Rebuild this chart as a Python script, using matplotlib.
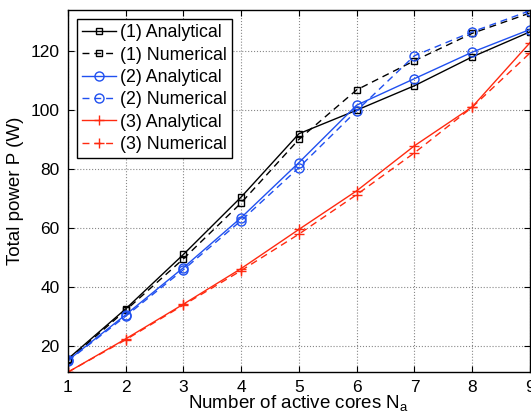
import matplotlib
matplotlib.use('Agg')
import matplotlib.pyplot as plt

plt.rcParams['font.family'] = ['Liberation Sans', 'DejaVu Sans']

cores = [1, 2, 3, 4, 5, 6, 7, 8, 9]
ana1 = [15.5, 32.5, 51.0, 70.5, 92.0, 100.0, 108.3, 118.1, 126.6]
num1 = [15.0, 32.0, 49.5, 68.5, 90.1, 106.9, 116.8, 126.1, 133.0]
ana2 = [15.0, 30.5, 46.5, 63.5, 82.2, 101.7, 110.7, 119.7, 127.4]
num2 = [14.8, 30.0, 45.8, 62.5, 80.5, 99.8, 118.5, 126.6, 133.8]
ana3 = [11.0, 22.3, 34.1, 46.2, 59.5, 72.6, 87.9, 101.1, 122.9]
num3 = [11.0, 22.0, 33.8, 45.5, 57.9, 71.3, 85.5, 101.0, 119.4]

blue = '#2050f0'
red = '#ff2a10'
dash = (5, 3.5)

fig = plt.figure(figsize=(5.31, 4.2), dpi=100)
ax = fig.add_axes([0.128, 0.114, 0.87, 0.862])

ax.plot(cores, ana1, '-', color='black', marker='s', ms=5, mfc='none', lw=1, label='(1) Analytical')
ax.plot(cores, num1, '--', dashes=dash, color='black', marker='s', ms=5, mfc='none', lw=1, label='(1) Numerical')
ax.plot(cores, ana2, '-', color=blue, marker='o', ms=6.5, mfc='none', lw=1, label='(2) Analytical')
ax.plot(cores, num2, '--', dashes=dash, color=blue, marker='o', ms=6.5, mfc='none', lw=1, label='(2) Numerical')
ax.plot(cores, ana3, '-', color=red, marker='+', ms=7, lw=1, label='(3) Analytical')
ax.plot(cores, num3, '--', dashes=dash, color=red, marker='+', ms=7, lw=1, label='(3) Numerical')

ax.set_xlim(1, 9)
ax.set_ylim(11, 134)
ax.set_xticks(cores)
ax.set_yticks([20, 40, 60, 80, 100, 120])
ax.tick_params(direction='in', top=True, right=True, labelsize=12.5, length=4, pad=6)
ax.grid(True, linestyle=':', color='#888888', lw=0.8)
for s in ax.spines.values():
    s.set_linewidth(1)

ax.set_xlabel('Number of active cores N$_\\mathregular{a}$', fontsize=13.5, labelpad=-1)
ax.set_ylabel('Total power P (W)', fontsize=13.5, labelpad=5)

leg = ax.legend(loc='upper left', fontsize=12.8, fancybox=False, edgecolor='black',
                handlelength=1.9, handletextpad=0.2, labelspacing=0.3,
                borderpad=0.3, borderaxespad=0.5, framealpha=1)
leg.get_frame().set_linewidth(1)

fig.savefig('out.png', dpi=100)
